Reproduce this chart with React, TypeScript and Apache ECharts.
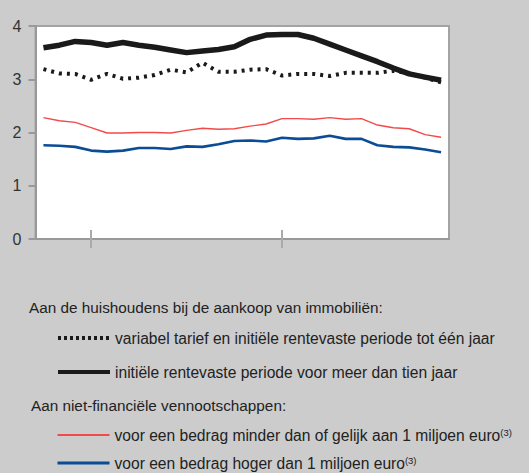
import React, { useEffect, useRef } from "react";
import * as echarts from "echarts";

const categories = [
  "1", "2", "3", "4", "5", "6", "7", "8", "9", "10", "11", "12", "13",
  "14", "15", "16", "17", "18", "19", "20", "21", "22", "23", "24", "25", "26",
];
const variabel = [3.19, 3.11, 3.1, 2.99, 3.1, 3.01, 3.03, 3.08, 3.18, 3.13, 3.31, 3.14, 3.14, 3.18, 3.19, 3.07, 3.1, 3.1, 3.06, 3.12, 3.12, 3.12, 3.16, 3.11, 3.03, 2.94];
const tienJaar = [3.59, 3.64, 3.71, 3.69, 3.64, 3.69, 3.64, 3.6, 3.55, 3.5, 3.53, 3.56, 3.61, 3.75, 3.83, 3.84, 3.84, 3.77, 3.66, 3.55, 3.44, 3.33, 3.21, 3.1, 3.04, 2.98];
const kleinBedrag = [2.28, 2.22, 2.19, 2.09, 1.99, 1.99, 2.0, 2.0, 1.99, 2.04, 2.08, 2.06, 2.07, 2.12, 2.16, 2.26, 2.26, 2.25, 2.28, 2.25, 2.26, 2.14, 2.09, 2.07, 1.96, 1.91];
const grootBedrag = [1.76, 1.75, 1.73, 1.66, 1.64, 1.66, 1.71, 1.71, 1.69, 1.74, 1.73, 1.78, 1.84, 1.85, 1.83, 1.9, 1.88, 1.89, 1.94, 1.88, 1.88, 1.76, 1.73, 1.72, 1.68, 1.63];
const yTicks = [0, 1, 2, 3, 4];
const tickIndices = [3, 15];

const names = [
  "variabel tarief en initiële rentevaste periode tot één jaar",
  "initiële rentevaste periode voor meer dan tien jaar",
  "voor een bedrag minder dan of gelijk aan 1 miljoen euro",
  "voor een bedrag hoger dan 1 miljoen euro",
];
const header1 = "Aan de huishoudens bij de aankoop van immobiliën:";
const header2 = "Aan niet-financiële vennootschappen:";

const FONT = "'Liberation Sans', Arial, sans-serif";

export default function App() {
  const ref = useRef<HTMLDivElement>(null);
  useEffect(() => {
    document.body.style.margin = "0";
    const chart = echarts.init(ref.current!, null, { renderer: "svg" });
    const legendText = {
      fontSize: 15.6,
      color: "#222",
      fontFamily: FONT,
      rich: {
        t: { fontSize: 15.6, lineHeight: 16, color: "#222", fontFamily: FONT },
        s: { fontSize: 9.5, lineHeight: 10, verticalAlign: "top", color: "#222", fontFamily: FONT },
      },
    };
    chart.setOption({
      animation: false,
      backgroundColor: "#cccccc",
      textStyle: { fontFamily: FONT },
      grid: {
        left: 35.5,
        top: 26,
        right: 80,
        bottom: 234,
        show: true,
        backgroundColor: "#ffffff",
        borderColor: "#a3a3a3",
        borderWidth: 2,
      },
      xAxis: [
        {
          type: "category",
          data: categories,
          boundaryGap: true,
          axisLine: { show: true, lineStyle: { color: "#999999", width: 2 } },
          axisLabel: { show: false },
          axisTick: {
            show: true,
            alignWithLabel: true,
            interval: (i: number) => tickIndices.includes(i),
            length: 9,
            lineStyle: { color: "#aaaaaa", width: 2 },
          },
          splitLine: { show: false },
        },
        {
          type: "category",
          data: categories,
          position: "bottom",
          boundaryGap: true,
          axisLine: { show: false },
          axisLabel: { show: false },
          axisTick: {
            show: true,
            inside: true,
            alignWithLabel: true,
            interval: (i: number) => tickIndices.includes(i),
            length: 9,
            lineStyle: { color: "#aaaaaa", width: 2 },
          },
          splitLine: { show: false },
        },
      ],
      yAxis: {
        type: "value",
        min: yTicks[0],
        max: yTicks[yTicks.length - 1],
        interval: 1,
        axisLine: { show: true, lineStyle: { color: "#999999", width: 2 } },
        axisTick: { show: true, length: 7, lineStyle: { color: "#999999", width: 2 } },
        axisLabel: { fontSize: 16, color: "#333333", margin: 14, fontFamily: FONT },
        splitLine: { show: false },
      },
      legend: [
        {
          data: [
            { name: names[0], lineStyle: { type: [3, 3], width: 4, color: "#1a1a1a" } },
            { name: names[1], lineStyle: { width: 4, color: "#1a1a1a" } },
          ],
          orient: "vertical",
          left: 56,
          top: 330,
          padding: 0,
          height: 80,
          itemWidth: 52,
          itemHeight: 14,
          itemGap: 18,
          itemStyle: { opacity: 0 },
          textStyle: legendText,
          formatter: (n: string) => `{t|${n}}`,
        },
        {
          data: [
            { name: names[2], lineStyle: { width: 2, color: "#f24a4a" } },
            { name: names[3], lineStyle: { width: 3, color: "#0a4c96" } },
          ],
          orient: "vertical",
          left: 56,
          top: 427,
          padding: 0,
          height: 80,
          itemWidth: 52,
          itemHeight: 14,
          itemGap: 12,
          itemStyle: { opacity: 0 },
          textStyle: legendText,
          formatter: (n: string) => `{t|${n}}{s|(3)}`,
        },
      ],
      graphic: [
        {
          type: "text",
          left: 29,
          top: 300,
          style: { text: header1, fontSize: 15.3, fill: "#222", fontFamily: FONT },
        },
        {
          type: "text",
          left: 31,
          top: 398,
          style: { text: header2, fontSize: 15.3, fill: "#222", fontFamily: FONT },
        },
      ],
      series: [
        {
          name: names[0],
          type: "line",
          data: variabel,
          symbol: "none",
          lineStyle: { color: "#1a1a1a", width: 4, type: [3, 5], cap: "butt" },
          itemStyle: { color: "#1a1a1a" },
          z: 3,
        },
        {
          name: names[1],
          type: "line",
          data: tienJaar,
          symbol: "none",
          lineStyle: { color: "#1a1a1a", width: 5.5 },
          itemStyle: { color: "#1a1a1a" },
          z: 4,
        },
        {
          name: names[2],
          type: "line",
          data: kleinBedrag,
          symbol: "none",
          lineStyle: { color: "#f24a4a", width: 1.4 },
          itemStyle: { color: "#f24a4a" },
        },
        {
          name: names[3],
          type: "line",
          data: grootBedrag,
          symbol: "none",
          lineStyle: { color: "#0a4c96", width: 2.6 },
          itemStyle: { color: "#0a4c96" },
        },
      ],
    });
    return () => chart.dispose();
  }, []);
  return (
    <div
      ref={ref}
      style={{ position: "absolute", left: 0, top: 0, width: 529, height: 473, background: "#cccccc" }}
    />
  );
}
